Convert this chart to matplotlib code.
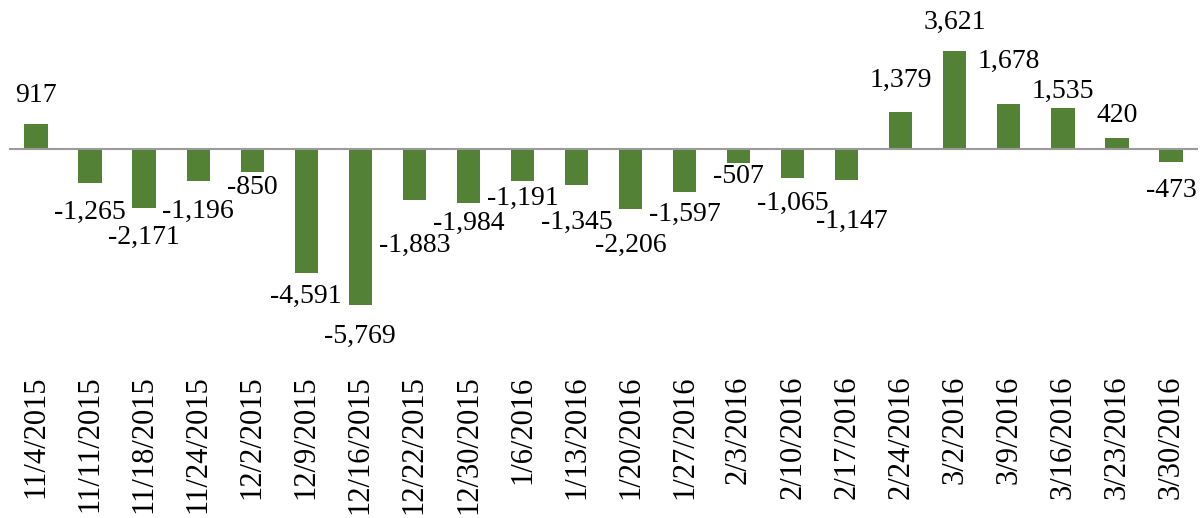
import matplotlib
matplotlib.use('Agg')
import matplotlib.pyplot as plt

dates = ['11/4/2015', '11/11/2015', '11/18/2015', '11/24/2015', '12/2/2015',
         '12/9/2015', '12/16/2015', '12/22/2015', '12/30/2015', '1/6/2016',
         '1/13/2016', '1/20/2016', '1/27/2016', '2/3/2016', '2/10/2016',
         '2/17/2016', '2/24/2016', '3/2/2016', '3/9/2016', '3/16/2016',
         '3/23/2016', '3/30/2016']
values = [917, -1265, -2171, -1196, -850, -4591, -5769, -1883, -1984, -1191,
          -1345, -2206, -1597, -507, -1065, -1147, 1379, 3621, 1678, 1535,
          420, -473]

# label offsets from bar end, in pixels (labels were nudged by hand in the original)
label_dy = [-29, 29, 30, 30, 16, 23, 32, 46, 21, 17, 37, 37, 22, 14, 26, 41,
            -31, -29, -42, -16, -22, 29]
label_dx = [0] * 15 + [5] + [0] * 6

plt.rcParams['font.family'] = ['Liberation Serif', 'DejaVu Serif']

fig = plt.figure(figsize=(12.01, 5.18), dpi=100)
W, H = 1201, 518
top_px, bottom_px = 0, 370
ax = fig.add_axes([9 / W, 1 - bottom_px / H, 1189 / W, (bottom_px - top_px) / H])

x = list(range(len(values)))
ax.bar(x, values, width=0.43, color='#538135', zorder=2)
ax.axhline(0, color='#9a9a9a', lw=1.5, zorder=3)

# zero line sits at y=149 px, scale ~0.027 px per unit
px_per_unit = 0.027
ax.set_ylim(-(bottom_px - 149) / px_per_unit, 149 / px_per_unit)
ax.set_xlim(-0.5, len(values) - 0.5)

for i, v in enumerate(values):
    ax.annotate(f'{v:,}', (i, v), xytext=(label_dx[i], -label_dy[i]),
                textcoords='offset pixels', ha='center', va='center',
                fontsize=20, color='black', annotation_clip=False)

ax.set_xticks(x)
ax.set_xticklabels(dates, rotation=90, fontsize=22, va='top', ha='center')
ax.tick_params(axis='x', length=0, pad=4)
ax.set_yticks([])
for s in ax.spines.values():
    s.set_visible(False)

fig.savefig('out.png', dpi=100)
